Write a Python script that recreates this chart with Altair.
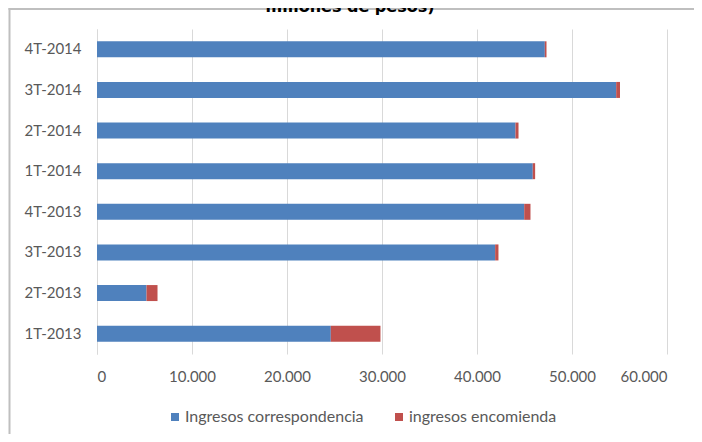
import altair as alt
import pandas as pd

# Data
trimestres = ["1T-2013", "2T-2013", "3T-2013", "4T-2013",
              "1T-2014", "2T-2014", "3T-2014", "4T-2014"]
correspondencia = [24610, 5210, 41910, 44970, 45870, 44050, 54650, 47140]
encomienda = [5230, 1160, 350, 660, 250, 320, 400, 176]
series = ["Ingresos correspondencia", "ingresos encomienda"]
colores = ["#4F81BD", "#C0504D"]
x_ticks = [0, 10000, 20000, 30000, 40000, 50000, 60000]
titulo = "millones de pesos)"

rows = []
for t, c, e in zip(trimestres, correspondencia, encomienda):
    rows.append({"trimestre": t, "serie": series[0], "valor": c, "orden": 0})
    rows.append({"trimestre": t, "serie": series[1], "valor": e, "orden": 1})
df = pd.DataFrame(rows)

label_color = "#595959"
grid_color = "#d9d9d9"

bars = alt.Chart(df).mark_bar(size=16).encode(
    x=alt.X(
        "valor:Q", stack="zero",
        scale=alt.Scale(domain=[0, 60000], nice=False),
        axis=alt.Axis(values=x_ticks, title=None, domain=False, ticks=False,
                      grid=True, gridColor=grid_color, gridWidth=1,
                      labelExpr="replace(format(datum.value, ','), ',', '.')",
                      labelFont="Lato", labelFontSize=15, labelColor=label_color,
                      labelPadding=15),
    ),
    y=alt.Y(
        "trimestre:N", sort=list(reversed(trimestres)),
        scale=alt.Scale(paddingInner=0, paddingOuter=0),
        axis=alt.Axis(title=None, ticks=False, domainColor=grid_color, domainWidth=1,
                      labelFont="Lato", labelFontSize=15, labelColor=label_color,
                      labelPadding=16),
    ),
    color=alt.Color(
        "serie:N",
        scale=alt.Scale(domain=series, range=colores),
        legend=alt.Legend(orient="none", legendX=70, legendY=380, direction="horizontal",
                          title=None, symbolType="square", symbolSize=64,
                          symbolStrokeWidth=0, labelFont="Lato", labelFontSize=16,
                          labelColor=label_color, labelLimit=400,
                          columnPadding=27, labelOffset=2),
    ),
    order=alt.Order("orden:Q"),
)

frame_top = alt.Chart(alt.Data(values=[{}])).mark_rule(
    stroke="#bfbfbf", strokeWidth=2
).encode(x=alt.value(-88.5), x2=alt.value(700), y=alt.value(-20))

frame_left = alt.Chart(alt.Data(values=[{}])).mark_rule(
    stroke="#bfbfbf", strokeWidth=2
).encode(x=alt.value(-87.5), y=alt.value(-21), y2=alt.value(500))

title_text = alt.Chart(alt.Data(values=[{}])).mark_text(
    text=titulo, font="DejaVu Sans", fontWeight="bold", fontSize=16,
    baseline="alphabetic", align="center", color="#000000"
).encode(x=alt.value(253), y=alt.value(-17))

chart = alt.layer(frame_top, frame_left, bars, title_text).properties(
    width=570, height=325,
    padding={"left": 89, "top": 21, "right": 27, "bottom": 80},
    autosize=alt.AutoSizeParams(type="none"),
    background="white",
).configure_view(stroke=None)

chart.save("out.html", embed_options={"renderer": "svg", "actions": False})
